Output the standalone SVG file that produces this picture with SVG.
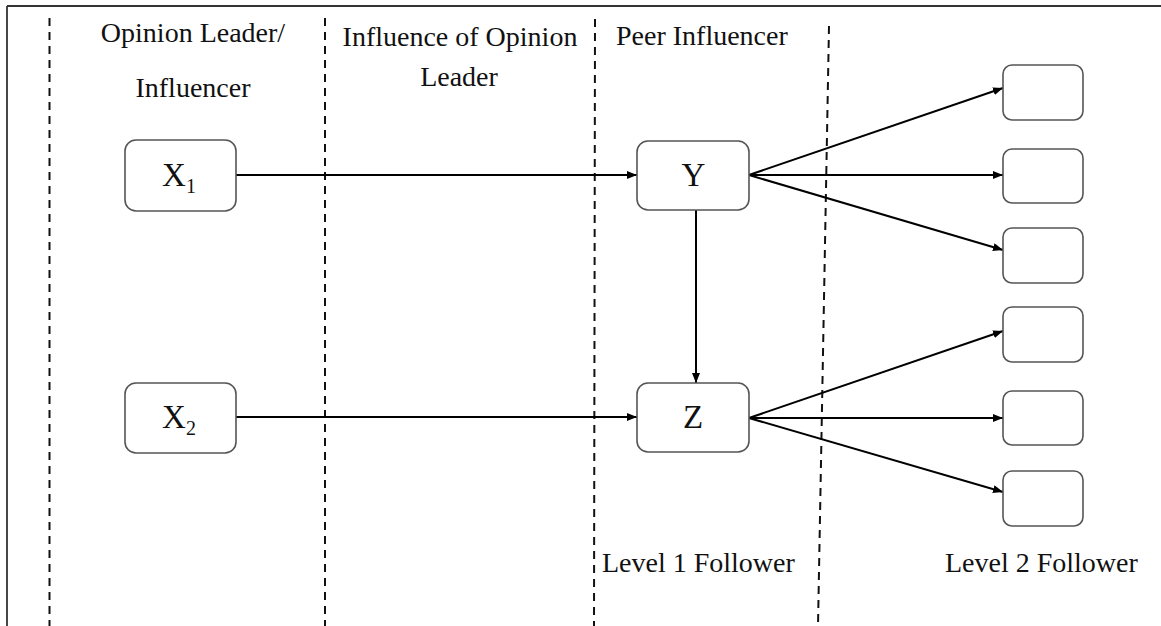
<svg xmlns="http://www.w3.org/2000/svg" width="1161" height="626" viewBox="0 0 1161 626">
<style>
text{font-family:'Liberation Serif',serif;fill:#111;}
.lbl{font-size:28px;}
.nl{font-size:33px;text-anchor:middle;}
.sub{font-size:20px;}
.box{fill:#fff;stroke:#555;stroke-width:1.6;}
.dash{stroke:#111;stroke-width:2;stroke-dasharray:8,6;fill:none;}
.edge{stroke:#000;stroke-width:2;fill:none;marker-end:url(#ah);}
</style>
<defs>
<marker id="ah" markerWidth="10" markerHeight="8" refX="10" refY="4" orient="auto" markerUnits="userSpaceOnUse">
<path d="M0,0 L10,4 L0,8 Z" fill="#000"/>
</marker>
</defs>
<rect width="1161" height="626" fill="#fff"/>
<g id="frame" stroke="#333" stroke-width="1.8" fill="none">
<line x1="7" y1="6" x2="1161" y2="6"/>
<line x1="7" y1="6" x2="7" y2="626"/>
</g>
<g id="dividers">
<line class="dash" x1="49.5" y1="18" x2="49.5" y2="626"/>
<line class="dash" x1="325" y1="18" x2="325" y2="626"/>
<line class="dash" x1="595" y1="19" x2="594" y2="626"/>
<line class="dash" x1="829" y1="26" x2="818" y2="626"/>
</g>
<g id="headers" font-family="Liberation Serif, serif">
<text class="lbl" x="193" y="42" text-anchor="middle">Opinion Leader/</text>
<text class="lbl" x="193" y="97" text-anchor="middle">Influencer</text>
<text class="lbl" x="460" y="46" text-anchor="middle">Influence of Opinion</text>
<text class="lbl" x="459" y="86" text-anchor="middle">Leader</text>
<text class="lbl" x="616" y="45">Peer Influencer</text>
<text class="lbl" x="602" y="572">Level 1 Follower</text>
<text class="lbl" x="945" y="572">Level 2 Follower</text>
</g>
<g id="connectors">
<line class="edge" x1="236" y1="175" x2="637" y2="175"/>
<line class="edge" x1="236" y1="417" x2="637" y2="417"/>
<line class="edge" x1="696" y1="210" x2="696" y2="383"/>
<line class="edge" x1="749" y1="175" x2="1003" y2="88"/>
<line class="edge" x1="749" y1="175" x2="1003" y2="175"/>
<line class="edge" x1="749" y1="175" x2="1003" y2="250"/>
<line class="edge" x1="749" y1="418" x2="1003" y2="331"/>
<line class="edge" x1="749" y1="418" x2="1003" y2="418"/>
<line class="edge" x1="749" y1="418" x2="1003" y2="492"/>
</g>
<g id="node-x1">
<rect class="box" x="125" y="140" width="111" height="71" rx="11"/>
<text class="nl" x="179" y="186">X<tspan class="sub" dy="7">1</tspan></text>
</g>
<g id="node-x2">
<rect class="box" x="125" y="383" width="111" height="70" rx="11"/>
<text class="nl" x="179" y="428">X<tspan class="sub" dy="7">2</tspan></text>
</g>
<g id="node-y">
<rect class="box" x="637" y="141" width="112" height="69" rx="11"/>
<text class="nl" x="693.5" y="186">Y</text>
</g>
<g id="node-z">
<rect class="box" x="637" y="383" width="112" height="69" rx="11"/>
<text class="nl" x="693" y="428">Z</text>
</g>
<g id="f1"><rect class="box" x="1003" y="65" width="80" height="55" rx="9"/></g>
<g id="f2"><rect class="box" x="1003" y="149" width="80" height="54" rx="9"/></g>
<g id="f3"><rect class="box" x="1003" y="228" width="80" height="55" rx="9"/></g>
<g id="f4"><rect class="box" x="1003" y="307" width="80" height="55" rx="9"/></g>
<g id="f5"><rect class="box" x="1003" y="391" width="80" height="54" rx="9"/></g>
<g id="f6"><rect class="box" x="1003" y="471" width="80" height="55" rx="9"/></g>
</svg>
